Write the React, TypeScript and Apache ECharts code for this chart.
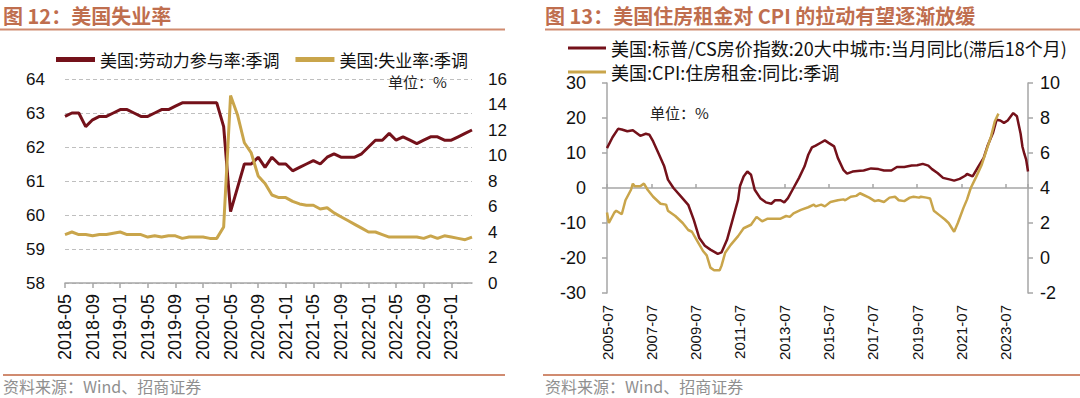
import React, { useEffect, useRef } from "react";
import * as echarts from "echarts";

// ---------- Figure 12 data (monthly, 2018-05 .. 2023-04) ----------
const usStart = "2018-05";
const lfprValues = [
  62.9, 63.0, 63.0, 62.6, 62.8, 62.9, 62.9, 63.0, 63.1, 63.1,
  63.0, 62.9, 62.9, 63.0, 63.1, 63.1, 63.2, 63.3, 63.3, 63.3,
  63.3, 63.3, 63.3, 62.6, 60.1, 60.8, 61.5, 61.5, 61.7, 61.4,
  61.7, 61.5, 61.5, 61.3, 61.4, 61.5, 61.6, 61.5, 61.7, 61.8,
  61.7, 61.7, 61.7, 61.8, 62.0, 62.2, 62.2, 62.4, 62.2, 62.3,
  62.2, 62.1, 62.2, 62.3, 62.3, 62.2, 62.2, 62.3, 62.4, 62.5,
];
const urValues = [
  3.8, 4.0, 3.8, 3.8, 3.7, 3.8, 3.8, 3.9, 4.0, 3.8,
  3.8, 3.8, 3.6, 3.7, 3.6, 3.7, 3.7, 3.5, 3.6, 3.6,
  3.6, 3.5, 3.5, 4.4, 14.7, 13.2, 11.0, 10.2, 8.4, 7.8,
  6.9, 6.7, 6.7, 6.4, 6.2, 6.1, 6.1, 5.8, 5.9, 5.5,
  5.2, 4.9, 4.6, 4.3, 4.0, 4.0, 3.8, 3.6, 3.6, 3.6,
  3.6, 3.6, 3.5, 3.7, 3.5, 3.7, 3.6, 3.5, 3.4, 3.6,
];

// ---------- Figure 13 data ----------
const csDates = [
  "2005-07", "2005-10", "2006-01", "2006-03", "2006-06", "2006-09", "2006-11", "2007-01", "2007-04", "2007-06",
  "2007-08", "2007-11", "2008-02", "2008-04", "2008-07", "2008-11", "2009-03", "2009-06", "2009-09", "2009-12",
  "2010-03", "2010-07", "2010-09", "2010-12", "2011-03", "2011-06", "2011-07", "2011-09", "2011-11", "2012-01",
  "2012-03", "2012-06", "2012-09", "2012-12", "2013-02", "2013-05", "2013-07", "2013-09", "2013-12", "2014-03",
  "2014-06", "2014-08", "2014-10", "2014-12", "2015-03", "2015-05", "2015-07", "2015-10", "2015-12", "2016-03",
  "2016-05", "2016-08", "2016-12", "2017-02", "2017-06", "2017-10", "2018-01", "2018-05", "2018-08", "2018-12",
  "2019-04", "2019-07", "2019-10", "2020-01", "2020-03", "2020-06", "2020-09", "2021-01", "2021-03", "2021-06",
  "2021-09", "2021-10", "2022-01", "2022-04", "2022-07", "2022-09", "2022-12", "2023-02", "2023-04", "2023-06",
  "2023-08", "2023-11", "2024-01", "2024-02", "2024-03", "2024-04", "2024-05", "2024-06", "2024-07",
];
const csValues = [
  11.4, 14.5, 16.9, 16.7, 16.2, 16.5, 15.7, 14.9, 15.5, 15.2,
  13.3, 9.8, 6.2, 2.4, 0.0, -2.4, -4.8, -9.1, -14.3, -16.5,
  -17.6, -18.8, -18.4, -14.8, -9.1, -3.3, 0.5, 3.3, 4.7, 3.8,
  -0.5, -2.9, -4.1, -4.5, -3.5, -3.5, -4.1, -2.9, 0.0, 2.9,
  6.2, 9.5, 11.6, 12.1, 13.0, 13.6, 12.9, 11.9, 8.6, 5.2,
  4.1, 4.7, 4.9, 5.0, 5.6, 5.4, 5.0, 5.0, 6.0, 6.0,
  6.4, 6.5, 6.9, 6.4, 5.4, 4.3, 2.9, 2.4, 2.1, 2.6,
  3.5, 4.0, 3.3, 6.0, 8.6, 11.9, 15.7, 19.5, 19.3, 18.6,
  19.3, 21.4, 20.5, 18.0, 15.5, 11.8, 9.8, 8.1, 4.7,
];
const rentDates = [
  "2005-07", "2005-08", "2005-11", "2005-12", "2006-03", "2006-05", "2006-08", "2006-09", "2006-10", "2007-01",
  "2007-03", "2007-05", "2007-08", "2007-12", "2008-03", "2008-04", "2008-08", "2008-12", "2009-03", "2009-05",
  "2009-08", "2009-11", "2010-01", "2010-03", "2010-05", "2010-08", "2010-09", "2010-11", "2011-02", "2011-06",
  "2011-09", "2012-01", "2012-04", "2012-07", "2012-10", "2013-02", "2013-05", "2013-08", "2013-10", "2013-12",
  "2014-04", "2014-08", "2014-11", "2014-12", "2015-03", "2015-05", "2015-08", "2015-12", "2016-03", "2016-04",
  "2016-07", "2016-10", "2016-12", "2017-02", "2017-05", "2017-08", "2017-10", "2018-01", "2018-04", "2018-07",
  "2018-09", "2018-12", "2019-03", "2019-05", "2019-08", "2019-09", "2019-12", "2020-02", "2020-04", "2020-07",
  "2020-10", "2020-12", "2021-03", "2021-05", "2021-08", "2021-10", "2021-12", "2022-03", "2022-06", "2022-08",
  "2022-11", "2023-01", "2023-03",
];
const rentValues = [
  2.6, 2.0, 2.6, 2.7, 2.5, 3.3, 3.9, 4.25, 4.1, 4.1,
  4.25, 3.9, 3.5, 3.1, 3.05, 2.7, 2.4, 2.0, 1.6, 1.5,
  0.95, 0.4, 0.15, -0.55, -0.7, -0.7, -0.45, 0.3, 0.75, 1.25,
  1.7, 1.9, 2.35, 2.1, 2.25, 2.25, 2.25, 2.4, 2.35, 2.55,
  2.75, 2.9, 3.05, 2.95, 3.05, 2.95, 3.2, 3.3, 3.35, 3.3,
  3.5, 3.55, 3.7, 3.6, 3.45, 3.25, 3.3, 3.2, 3.45, 3.5,
  3.3, 3.25, 3.45, 3.5, 3.45, 3.5, 3.45, 3.4, 2.7, 2.45,
  2.2, 2.0, 1.5, 2.0, 2.85, 3.35, 4.0, 4.65, 5.35, 6.0,
  6.95, 7.8, 8.25,
];

const LFPR_NAME = "美国:劳动力参与率:季调";
const UR_NAME = "美国:失业率:季调";
const CS_NAME = "美国:标普/CS房价指数:20大中城市:当月同比(滞后18个月)";
const RENT_NAME = "美国:CPI:住房租金:同比:季调";

const TITLE_12 = "图 12：美国失业率";
const TITLE_13 = "图 13：美国住房租金对 CPI 的拉动有望逐渐放缓";
const SOURCE = "资料来源：Wind、招商证券";
const UNIT = "单位：%";

function buildMonths(start: string, count: number): string[] {
  const [y0, m0] = start.split("-").map(Number);
  const out: string[] = [];
  for (let i = 0; i < count; i++) {
    const t = (m0 - 1) + i;
    const y = y0 + Math.floor(t / 12);
    const m = (t % 12) + 1;
    out.push(`${y}-${m < 10 ? "0" + m : m}`);
  }
  return out;
}
// month offset from 2005-07 (start of Figure 13's axis)
function monthIdx(d: string): number {
  const [y, m] = d.split("-").map(Number);
  return (y - 2005) * 12 + (m - 7);
}

const usMonths = buildMonths(usStart, lfprValues.length);

const FONT = '"Liberation Sans", Arial, "Noto Sans CJK SC", sans-serif';
const CJK = '"Noto Sans CJK SC", "Liberation Sans", sans-serif';
const DARK = "#74111A";
const GOLD = "#C9A54B";
const AXIS = "#A6A6A6";
const TITLE_C = "#BF6E4E";
const RULE_C = "#D08B70";

export default function App() {
  const ref = useRef<HTMLDivElement>(null);
  useEffect(() => {
    if (!ref.current) return;
    const chart = echarts.init(ref.current, undefined, { renderer: "svg" });
    const xFmt = (v: number) => (v % 24 === 0 ? `${2005 + v / 12}-07` : "");
    const option: any = {
      animation: false,
      backgroundColor: "#ffffff",
      textStyle: { fontFamily: FONT },
      grid: [
        { left: 65, top: 79, width: 407, height: 204 },
        { left: 607, top: 83, width: 421, height: 210 },
      ],
      legend: [
        {
          data: [LFPR_NAME, UR_NAME],
          left: 51,
          top: 46,
          icon: "rect",
          itemWidth: 39,
          itemHeight: 5,
          itemGap: 16,
          textStyle: { fontSize: 17, fontFamily: CJK, color: "#111" },
        },
        {
          data: [CS_NAME, RENT_NAME],
          orient: "vertical",
          left: 563,
          top: 34,
          icon: "rect",
          itemWidth: 38,
          itemHeight: 3,
          itemGap: 6,
          textStyle: { fontSize: 18, fontFamily: CJK, color: "#111" },
        },
      ],
      xAxis: [
        {
          gridIndex: 0,
          type: "category",
          data: usMonths,
          boundaryGap: false,
          axisLine: { onZero: false, lineStyle: { color: AXIS, width: 1.5 } },
          axisTick: { interval: 3, length: 5, lineStyle: { color: AXIS, width: 1.5 } },
          axisLabel: { interval: 3, rotate: 90, fontSize: 18, color: "#111", margin: 11 },
          splitLine: { show: false },
        },
        {
          gridIndex: 1,
          type: "value",
          min: 0,
          max: 228,
          interval: 24,
          axisLine: { show: false, onZero: false },
          axisTick: { show: false },
          splitLine: { show: false },
          axisLabel: { rotate: 90, fontSize: 15, color: "#111", margin: 12, formatter: xFmt },
        },
        {
          gridIndex: 1,
          type: "value",
          min: 0,
          max: 228,
          interval: 24,
          axisLine: { show: true, onZero: true, lineStyle: { color: AXIS, width: 1.5 } },
          axisTick: { show: true, length: 4, lineStyle: { color: AXIS, width: 1.5 } },
          splitLine: { show: false },
          axisLabel: { show: false },
        },
      ],
      yAxis: [
        {
          gridIndex: 0,
          type: "value",
          min: 58,
          max: 64,
          interval: 1,
          axisLine: { show: false, onZero: false },
          axisTick: { show: false },
          splitLine: { show: true, lineStyle: { color: "#BFBFBF", type: [4, 3], width: 1 } },
          axisLabel: { fontSize: 17, color: "#111", margin: 20 },
        },
        {
          gridIndex: 0,
          type: "value",
          position: "right",
          min: 0,
          max: 16,
          interval: 2,
          axisLine: { show: false, onZero: false },
          axisTick: { show: false },
          splitLine: { show: false },
          axisLabel: { fontSize: 17, color: "#111", margin: 16 },
        },
        {
          gridIndex: 1,
          type: "value",
          min: -30,
          max: 30,
          interval: 10,
          axisLine: { show: true, onZero: false, lineStyle: { color: AXIS, width: 1.5 } },
          axisTick: { show: true, length: 5, lineStyle: { color: AXIS, width: 1.5 } },
          splitLine: { show: false },
          axisLabel: { fontSize: 18, color: "#111", margin: 21 },
        },
        {
          gridIndex: 1,
          type: "value",
          position: "right",
          min: -2,
          max: 10,
          interval: 2,
          axisLine: { show: true, onZero: false, lineStyle: { color: AXIS, width: 1.5 } },
          axisTick: { show: true, length: 5, lineStyle: { color: AXIS, width: 1.5 } },
          splitLine: { show: false },
          axisLabel: { fontSize: 18, color: "#111", margin: 12 },
        },
      ],
      series: [
        {
          name: LFPR_NAME,
          type: "line",
          xAxisIndex: 0,
          yAxisIndex: 0,
          data: lfprValues,
          showSymbol: false,
          symbol: "none",
          color: DARK,
          lineStyle: { color: DARK, width: 3 },
        },
        {
          name: UR_NAME,
          type: "line",
          xAxisIndex: 0,
          yAxisIndex: 1,
          data: urValues,
          showSymbol: false,
          symbol: "none",
          color: GOLD,
          lineStyle: { color: GOLD, width: 3 },
        },
        {
          name: CS_NAME,
          type: "line",
          xAxisIndex: 1,
          yAxisIndex: 2,
          data: csDates.map((d, i) => [monthIdx(d), csValues[i]]),
          showSymbol: false,
          symbol: "none",
          color: DARK,
          lineStyle: { color: DARK, width: 2.5 },
        },
        {
          name: RENT_NAME,
          type: "line",
          xAxisIndex: 1,
          yAxisIndex: 3,
          data: rentDates.map((d, i) => [monthIdx(d), rentValues[i]]),
          showSymbol: false,
          symbol: "none",
          color: GOLD,
          lineStyle: { color: GOLD, width: 2.5 },
        },
      ],
      graphic: {
        elements: [
          {
            type: "text",
            x: 3,
            y: 15,
            style: { text: TITLE_12, fontSize: 20, fontWeight: "bold", fontFamily: CJK, fill: TITLE_C, verticalAlign: "middle" },
          },
          {
            type: "text",
            x: 545,
            y: 15,
            style: { text: TITLE_13, fontSize: 20, fontWeight: "bold", fontFamily: CJK, fill: TITLE_C, verticalAlign: "middle" },
          },
          { type: "line", shape: { x1: 0, y1: 29.5, x2: 505, y2: 29.5 }, style: { stroke: RULE_C, lineWidth: 2 } },
          { type: "line", shape: { x1: 545, y1: 29.5, x2: 1080, y2: 29.5 }, style: { stroke: RULE_C, lineWidth: 2 } },
          { type: "line", shape: { x1: 3, y1: 375, x2: 505, y2: 375 }, style: { stroke: RULE_C, lineWidth: 2 } },
          { type: "line", shape: { x1: 543, y1: 375, x2: 1080, y2: 375 }, style: { stroke: RULE_C, lineWidth: 2 } },
          {
            type: "text",
            x: 3,
            y: 386,
            style: { text: SOURCE, fontSize: 16, fontFamily: CJK, fill: "#8F8F8F", verticalAlign: "middle" },
          },
          {
            type: "text",
            x: 545,
            y: 386,
            style: { text: SOURCE, fontSize: 16, fontFamily: CJK, fill: "#8F8F8F", verticalAlign: "middle" },
          },
          {
            type: "text",
            x: 388,
            y: 81,
            style: { text: UNIT, fontSize: 15, fontFamily: CJK, fill: "#222", verticalAlign: "middle" },
          },
          {
            type: "text",
            x: 650,
            y: 112,
            style: { text: UNIT, fontSize: 15, fontFamily: CJK, fill: "#222", verticalAlign: "middle" },
          },
        ],
      },
    };
    chart.setOption(option);
    return () => chart.dispose();
  }, []);
  return (
    <div
      ref={ref}
      style={{ position: "absolute", left: 0, top: 0, width: 1080, height: 398, background: "#fff" }}
    />
  );
}
